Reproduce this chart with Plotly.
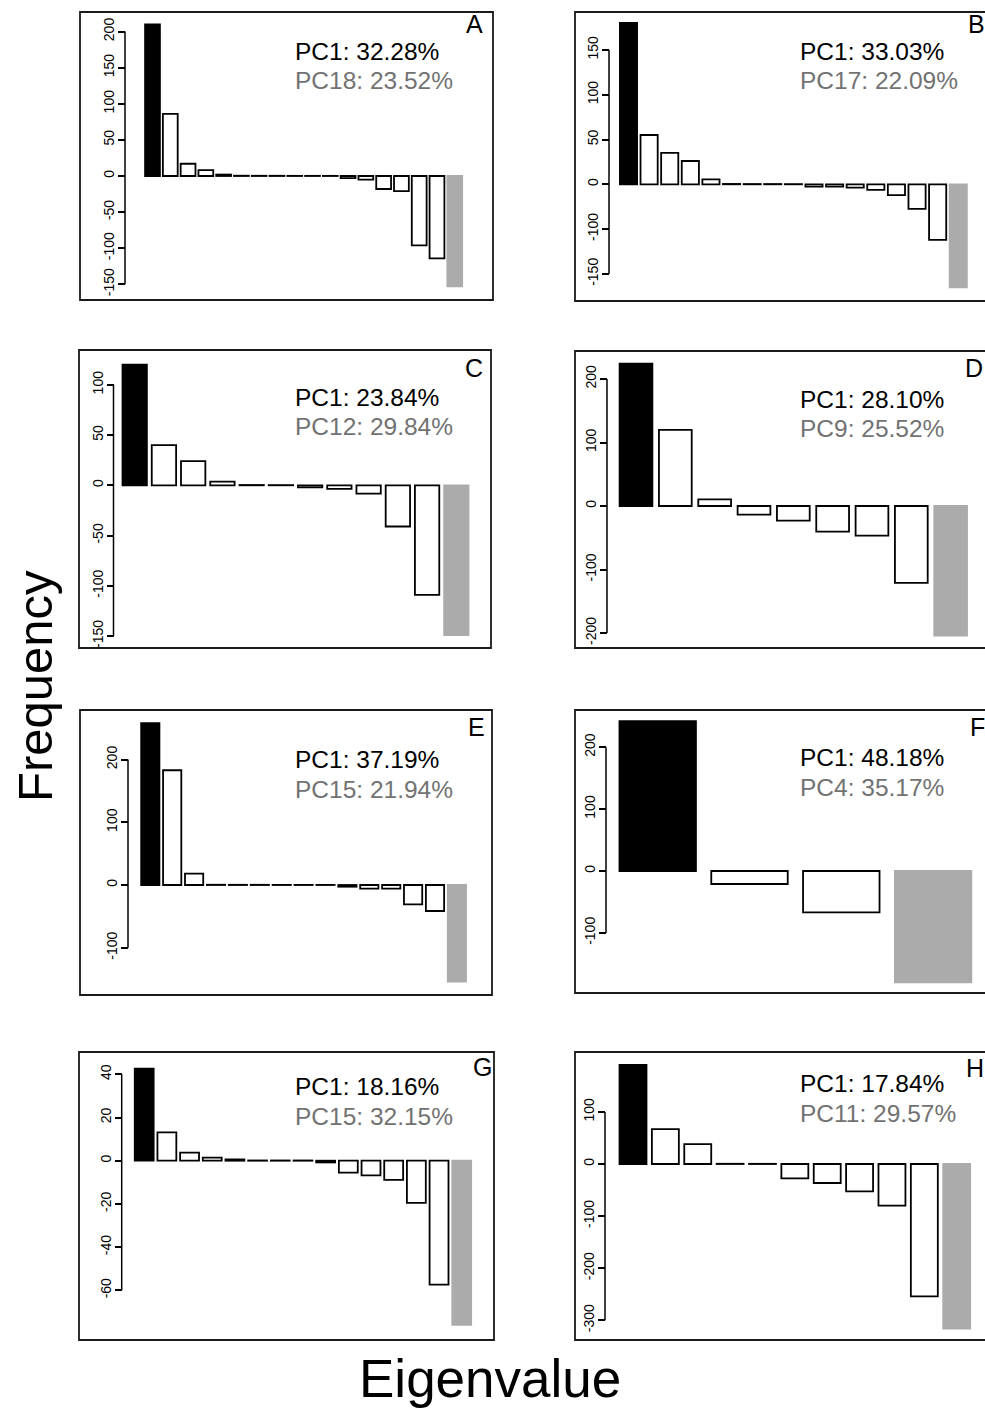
import plotly.graph_objects as go

W, H = 985, 1408
FONT = "Liberation Sans"

# ---------------- data ----------------
panels = ["A", "B", "C", "D", "E", "F", "G", "H"]

vals_A = [210, 86, 17, 8, 2, 0.4, 0.3, 0.3, 0.2, 0.2, 0.2, -3, -5, -18, -21, -96, -114, -153]
vals_B = [180, 55, 35, 26, 5.6, 0.4, 0.3, 0.3, 0.2, -2.5, -2.5, -3.7, -6.3, -12, -27.5, -62, -115]
vals_C = [120, 40, 24, 3.6, 0.3, 0.2, -2, -3.6, -8.3, -41, -109, -149]
vals_D = [224, 120, 10.5, -13.6, -23, -40.4, -46.7, -121, -204]
vals_E = [258, 183, 18, 0.4, 0.3, 0.3, 0.2, 0.2, 0.2, -2.7, -5.9, -5.9, -31, -41.5, -154]
vals_F = [242, -21, -66.7, -180]
vals_G = [42.6, 13.1, 3.7, 1.4, 0.6, 0.1, 0.1, 0.1, -0.8, -5.5, -6.8, -8.9, -19.5, -57.4, -76]
vals_H = [190, 67, 38, 0.4, 0.3, -27.6, -36.5, -52.6, -80, -254, -316]

pc1_text = ["PC1: 32.28%", "PC1: 33.03%", "PC1: 23.84%", "PC1: 28.10%",
            "PC1: 37.19%", "PC1: 48.18%", "PC1: 18.16%", "PC1: 17.84%"]
pcn_text = ["PC18: 23.52%", "PC17: 22.09%", "PC12: 29.84%", "PC9: 25.52%",
            "PC15: 21.94%", "PC4: 35.17%", "PC15: 32.15%", "PC11: 29.57%"]

tickvals_A = [-150, -100, -50, 0, 50, 100, 150, 200]
ticktext_A = ["-150", "-100", "-50", "0", "50", "100", "150", "200"]
tickvals_B = [-100, -50, 0, 50, 100, 150]
ticktext_B = ["-150", "-100", "0", "50", "100", "150"]
tickvals_C = [-150, -100, -50, 0, 50, 100]
ticktext_C = ["-150", "-100", "-50", "0", "50", "100"]
tickvals_D = [-200, -100, 0, 100, 200]
ticktext_D = ["-200", "-100", "0", "100", "200"]
tickvals_E = [-100, 0, 100, 200]
ticktext_E = ["-100", "0", "100", "200"]
tickvals_F = [-100, 0, 100, 200]
ticktext_F = ["-100", "0", "100", "200"]
tickvals_G = [-60, -40, -20, 0, 20, 40]
ticktext_G = ["-60", "-40", "-20", "0", "20", "40"]
tickvals_H = [-300, -200, -100, 0, 100]
ticktext_H = ["-300", "-200", "-100", "0", "100"]

values = [vals_A, vals_B, vals_C, vals_D, vals_E, vals_F, vals_G, vals_H]
tickvals = [tickvals_A, tickvals_B, tickvals_C, tickvals_D, tickvals_E, tickvals_F, tickvals_G, tickvals_H]
ticktexts = [ticktext_A, ticktext_B, ticktext_C, ticktext_D, ticktext_E, ticktext_F, ticktext_G, ticktext_H]

# ---------------- layout geometry (pixels) ----------------
# frame (L, T, R, B), axis x, first bar centre, slot, zero y, px per unit
geom = {
    "A": dict(frame=(80, 12, 493, 300), ax=125, c1=152.5, slot=17.78, zero=176.0, ppu=0.722),
    "B": dict(frame=(575, 12, 996, 301), ax=609, c1=628.5, slot=20.61, zero=184.3, ppu=0.896),
    "C": dict(frame=(79, 350, 491, 648), ax=113.5, c1=134.7, slot=29.24, zero=485.3, ppu=1.005),
    "D": dict(frame=(575, 351, 996, 648), ax=607, c1=636.0, slot=39.33, zero=506.0, ppu=0.635),
    "E": dict(frame=(80, 710, 492, 995), ax=128, c1=150.3, slot=21.9, zero=885.0, ppu=0.627),
    "F": dict(frame=(575, 710, 996, 993), ax=606, c1=657.7, slot=91.8, zero=871.0, ppu=0.619),
    "G": dict(frame=(79, 1052, 494, 1340), ax=121.7, c1=144.2, slot=22.68, zero=1160.7, ppu=2.16),
    "H": dict(frame=(575, 1052, 996, 1340), ax=605, c1=633.0, slot=32.37, zero=1164.0, ppu=0.521),
}
text_pos = {  # x left of PC text, y centres of two lines, letter centre
    "A": (293, 51, 81, 474, 24),
    "B": (798, 51, 81, 976, 24),
    "C": (293, 397, 427, 474, 368),
    "D": (798, 399, 428, 974, 368),
    "E": (293, 759, 789, 476, 727),
    "F": (798, 757, 787, 977, 727),
    "G": (293, 1086, 1116, 482, 1067),
    "H": (798, 1083, 1113, 975, 1068),
}

BLACK = "#000000"
GRAY = "#ababab"
TEXTGRAY = "#727272"

fig = go.Figure()
shapes = []
annotations = []
layout_axes = {}

for k, name in enumerate(panels):
    idx = k + 1
    sfx = "" if idx == 1 else str(idx)
    g = geom[name]
    L, T, R, B = g["frame"]
    Rd = min(R, W)
    vals = values[k]
    n = len(vals)
    xs = list(range(1, n + 1))
    fills = [BLACK] + ["#ffffff"] * (n - 2) + [GRAY]
    lines = [BLACK] * (n - 1) + [GRAY]
    fig.add_trace(go.Bar(
        x=xs, y=vals, width=0.833,
        marker=dict(color=fills, line=dict(color=lines, width=1.8)),
        xaxis="x" + sfx, yaxis="y" + sfx, showlegend=False, hoverinfo="skip",
    ))
    x0 = 1 + (L - g["c1"]) / g["slot"]
    x1 = 1 + (Rd - g["c1"]) / g["slot"]
    ytop = (g["zero"] - T) / g["ppu"]
    ybot = -(B - g["zero"]) / g["ppu"]
    layout_axes["xaxis" + sfx] = dict(
        domain=[L / W, Rd / W], range=[x0, x1], visible=False,
        anchor="y" + sfx, fixedrange=True)
    layout_axes["yaxis" + sfx] = dict(
        domain=[1 - B / H, 1 - T / H], range=[ybot, ytop],
        anchor="free", position=g["ax"] / W,
        tickmode="array", tickvals=tickvals[k], ticktext=ticktexts[k],
        ticks="outside", ticklen=7, tickwidth=1.5, tickcolor=BLACK,
        ticklabelstandoff=-2,
        tickangle=-90, tickfont=dict(family=FONT, size=14, color=BLACK),
        showline=False, showgrid=False, zeroline=False, fixedrange=True)
    # panel frame
    shapes.append(dict(type="rect", xref="x" + sfx + " domain", yref="y" + sfx + " domain",
                       x0=0, x1=(R - L) / (Rd - L), y0=0, y1=1,
                       line=dict(color="#1a1a1a", width=1.8), fillcolor="rgba(0,0,0,0)"))
    # R-style axis line spanning ticks only
    axx = 1 + (g["ax"] - g["c1"]) / g["slot"]
    shapes.append(dict(type="line", xref="x" + sfx, yref="y" + sfx,
                       x0=axx, x1=axx, y0=min(tickvals[k]), y1=max(tickvals[k]),
                       line=dict(color=BLACK, width=1.5)))
    tx, ty1, ty2, lx, ly = text_pos[name]
    annotations.append(dict(text=pc1_text[k], xref="paper", yref="paper",
                            x=tx / W, y=1 - ty1 / H, xanchor="left", yanchor="middle",
                            showarrow=False, font=dict(family=FONT, size=24.5, color=BLACK)))
    annotations.append(dict(text=pcn_text[k], xref="paper", yref="paper",
                            x=tx / W, y=1 - ty2 / H, xanchor="left", yanchor="middle",
                            showarrow=False, font=dict(family=FONT, size=24.5, color=TEXTGRAY)))
    annotations.append(dict(text=name, xref="paper", yref="paper",
                            x=lx / W, y=1 - ly / H, xanchor="center", yanchor="middle",
                            showarrow=False, font=dict(family=FONT, size=25, color=BLACK)))

annotations.append(dict(text="Frequency", xref="paper", yref="paper",
                        x=35 / W, y=1 - 686 / H, xanchor="center", yanchor="middle",
                        textangle=-90, showarrow=False,
                        font=dict(family=FONT, size=49, color=BLACK)))
annotations.append(dict(text="Eigenvalue", xref="paper", yref="paper",
                        x=490 / W, y=1 - 1378 / H, xanchor="center", yanchor="middle",
                        showarrow=False, font=dict(family=FONT, size=53, color=BLACK)))

fig.update_layout(
    width=W, height=H, margin=dict(l=0, r=0, t=0, b=0),
    paper_bgcolor="white", plot_bgcolor="rgba(0,0,0,0)",
    barmode="overlay", showlegend=False,
    shapes=shapes, annotations=annotations,
    **layout_axes,
)

fig.write_html(
    "out.html",
    config={"displayModeBar": False},
    post_script="document.body.style.margin='0';document.body.style.padding='0';"
                "document.body.style.overflow='hidden';",
)
